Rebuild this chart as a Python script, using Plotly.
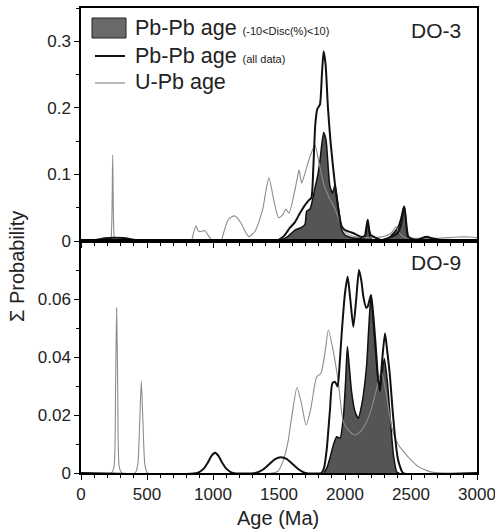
import plotly.graph_objects as go
from plotly.subplots import make_subplots

# ---------------- data ----------------
# DO-3 (top panel)
do3_upb_age = [0, 220, 232, 240, 248, 260, 833, 850, 871, 885, 900, 920, 939, 965, 998, 1061, 1080,
               1110, 1140, 1167, 1212, 1250, 1273, 1320, 1376, 1405, 1424, 1465, 1497, 1530, 1551,
               1576, 1621, 1641, 1652, 1672, 1697, 1735, 1773, 1800, 1840, 1880, 1920, 1950, 1990,
               2050, 2100, 2200, 2300, 2350, 2386, 2420, 2460, 2550, 2700, 2850, 2950, 3000]
do3_upb_val = [0, 0, 0.02, 0.129, 0.02, 0, 0, 0.01, 0.023, 0.016, 0.014, 0.015, 0.0155, 0.008, 0,
               0, 0.012, 0.03, 0.036, 0.0376, 0.027, 0.012, 0.0065, 0.015, 0.047, 0.08, 0.095, 0.057,
               0.035, 0.04, 0.048, 0.042, 0.077, 0.097, 0.107, 0.087, 0.102, 0.127, 0.144, 0.12,
               0.085, 0.065, 0.05, 0.035, 0.015, 0.008, 0.006, 0.005, 0.007, 0.012, 0.021, 0.01,
               0.005, 0.004, 0.004, 0.006, 0.006, 0.005]

do3_all_age = [0, 60, 120, 180, 250, 320, 400, 460, 520, 1450, 1500, 1540, 1583, 1620, 1659, 1690,
               1720, 1745, 1760, 1775, 1790, 1810, 1825, 1838, 1853, 1871, 1890, 1905, 1924, 1947,
               1975, 2000, 2030, 2061, 2100, 2126, 2150, 2160, 2172, 2184, 2195, 2212, 2250, 2278,
               2320, 2353, 2400, 2425, 2440, 2449, 2460, 2480, 2510, 2543, 2580, 2619, 2660, 2720,
               2800, 3000]
do3_all_val = [0, 0.0005, 0.002, 0.004, 0.005, 0.0045, 0.002, 0.0008, 0, 0, 0.002, 0.008, 0.02,
               0.028, 0.042, 0.052, 0.06, 0.065, 0.11, 0.175, 0.198, 0.205, 0.25, 0.285, 0.265, 0.2,
               0.15, 0.12, 0.085, 0.051, 0.022, 0.0165, 0.014, 0.012, 0.008, 0.006, 0.008, 0.018,
               0.032, 0.016, 0.009, 0.007, 0.003, 0.0015, 0.004, 0.0065, 0.012, 0.025, 0.045, 0.052,
               0.035, 0.0065, 0.003, 0.0015, 0.004, 0.0065, 0.004, 0.0015, 0.0005, 0]

do3_disc_age = [1480, 1520, 1566, 1621, 1667, 1697, 1710, 1735, 1773, 1795, 1811, 1838, 1856, 1874,
                1886, 1906, 1924, 1949, 1975, 2000, 2050, 2100, 2140, 2155, 2163, 2172, 2181, 2190,
                2205, 2250, 2300, 2340, 2366, 2400, 2425, 2440, 2449, 2460, 2475, 2500, 2560, 2606,
                2650, 2700]
do3_disc_val = [0, 0.002, 0.0065, 0.0165, 0.02, 0.025, 0.045, 0.048, 0.08, 0.1, 0.122, 0.163, 0.152,
                0.107, 0.082, 0.072, 0.084, 0.052, 0.0165, 0.009, 0.005, 0.004, 0.003, 0.008, 0.018,
                0.032, 0.016, 0.006, 0.002, 0.001, 0.002, 0.006, 0.0115, 0.02, 0.035, 0.048, 0.052,
                0.035, 0.005, 0.002, 0.003, 0.0055, 0.003, 0]

# DO-9 (bottom panel)
do9_upb_age = [0, 230, 250, 262, 270, 278, 290, 310, 410, 430, 445, 457, 469, 484, 505, 1450, 1490,
               1530, 1566, 1604, 1636, 1670, 1705, 1740, 1768, 1786, 1818, 1850, 1874, 1912, 1949,
               1987, 2030, 2076, 2120, 2164, 2200, 2240, 2275, 2310, 2353, 2400, 2455, 2500, 2555,
               2657, 2750, 3000]
do9_upb_val = [0, 0, 0.002, 0.03, 0.057, 0.03, 0.002, 0, 0, 0.003, 0.018, 0.0317, 0.018, 0.003, 0,
               0, 0.0005, 0.004, 0.0102, 0.0217, 0.0295, 0.024, 0.0165, 0.022, 0.0298, 0.0332,
               0.0344, 0.042, 0.0493, 0.0418, 0.0315, 0.0177, 0.0145, 0.0131, 0.0145, 0.0177, 0.022,
               0.0292, 0.035, 0.028, 0.016, 0.01, 0.0068, 0.0045, 0.0022, 0.0003, 0, 0]

do9_all_age = [0, 880, 930, 960, 990, 1015, 1040, 1070, 1100, 1150, 1320, 1380, 1430, 1470, 1515,
               1560, 1600, 1650, 1700, 1820, 1840, 1861, 1886, 1904, 1924, 1944, 1960, 1975, 2000,
               2020, 2040, 2063, 2085, 2106, 2125, 2139, 2160, 2172, 2197, 2215, 2235, 2252, 2265,
               2280, 2303, 2320, 2341, 2360, 2379, 2400, 2417, 2440, 3000]
do9_all_val = [0, 0, 0.0015, 0.0035, 0.006, 0.007, 0.006, 0.0035, 0.0015, 0, 0, 0.0012, 0.0032,
               0.0048, 0.0054, 0.0048, 0.0032, 0.0012, 0, 0, 0.0015, 0.0079, 0.0217, 0.0309, 0.0315,
               0.0298, 0.038, 0.0482, 0.062, 0.0677, 0.06, 0.0504, 0.06, 0.07, 0.066, 0.0608, 0.057,
               0.0574, 0.0614, 0.054, 0.0424, 0.032, 0.0298, 0.038, 0.0482, 0.042, 0.0332, 0.022,
               0.0125, 0.005, 0.0022, 0, 0]

do9_disc_age = [1840, 1861, 1885, 1912, 1937, 1962, 1987, 2005, 2018, 2030, 2050, 2076, 2101, 2120,
                2139, 2164, 2180, 2197, 2220, 2252, 2265, 2280, 2298, 2321, 2341, 2367, 2392, 2410]
do9_disc_val = [0, 0.0016, 0.005, 0.0097, 0.0125, 0.012, 0.0189, 0.032, 0.0436, 0.038, 0.028,
                0.0211, 0.0189, 0.022, 0.0269, 0.0372, 0.05, 0.0614, 0.0487, 0.0315, 0.028, 0.034,
                0.0395, 0.0315, 0.02, 0.0062, 0.0004, 0]

x_tickvals = [0, 500, 1000, 1500, 2000, 2500, 3000]
x_ticktext = ["0", "500", "1000", "1500", "2000", "2500", "3000"]
top_tickvals = [0, 0.1, 0.2, 0.3]
top_ticktext = ["0", "0.1", "0.2", "0.3"]
bot_tickvals = [0, 0.02, 0.04, 0.06]
bot_ticktext = ["0", "0.02", "0.04", "0.06"]

legend_labels = ["Pb-Pb age", "Pb-Pb age", "U-Pb age"]
legend_small = ["(-10&lt;Disc(%)&lt;10)", "(all data)", ""]
panel_labels = ["DO-3", "DO-9"]

# ---------------- figure ----------------
W, H = 495, 530
L, R, T, B = 81, 477, 8, 473
FONT = "Liberation Sans, Arial, sans-serif"
FILL = "#555555"
GRAY = "#8c8c8c"

def px(x):
    return (x - L) / (R - L)

def py(y):
    return (B - y) / (B - T)

fig = make_subplots(rows=2, cols=1, shared_xaxes=True, vertical_spacing=0)

def add_panel(row, disc_a, disc_v, upb_a, upb_v, all_a, all_v):
    fig.add_trace(go.Scatter(x=disc_a, y=disc_v, mode="lines", fill="tozeroy",
                             fillcolor=FILL, line=dict(color="#111111", width=1.5,
                                                       shape="spline", smoothing=0.6),
                             showlegend=False, name="Pb-Pb filtered"), row=row, col=1)
    fig.add_trace(go.Scatter(x=upb_a, y=upb_v, mode="lines",
                             line=dict(color=GRAY, width=1.1, shape="spline", smoothing=0.6),
                             showlegend=False, name="U-Pb"), row=row, col=1)
    fig.add_trace(go.Scatter(x=all_a, y=all_v, mode="lines",
                             line=dict(color="#111111", width=2, shape="spline", smoothing=0.6),
                             showlegend=False, name="Pb-Pb all"), row=row, col=1)

add_panel(1, do3_disc_age, do3_disc_val, do3_upb_age, do3_upb_val, do3_all_age, do3_all_val)
add_panel(2, do9_disc_age, do9_disc_val, do9_upb_age, do9_upb_val, do9_all_age, do9_all_val)

split = (B - 241) / (B - T)
axis_common = dict(showline=True, linecolor="black", linewidth=1.5, mirror=True,
                   showgrid=False, zeroline=False, ticks="outside", tickcolor="black",
                   tickwidth=1, ticklabeloverflow="allow", automargin=False,
                   tickfont=dict(family=FONT, size=17, color="#222"))

fig.update_layout(
    width=W, height=H, margin=dict(l=L, r=W - R, t=T, b=H - B, autoexpand=False),
    paper_bgcolor="white", plot_bgcolor="white", showlegend=False,
    font=dict(family=FONT, color="#222"),
    xaxis=dict(range=[0, 3000], tickvals=x_tickvals, ticktext=x_ticktext,
               showticklabels=False, ticklen=5,
               minor=dict(dtick=100, ticklen=3, ticks="outside", tickcolor="black"),
               **axis_common),
    xaxis2=dict(range=[0, 3000], tickvals=x_tickvals, ticktext=x_ticktext, ticklen=5,
                minor=dict(dtick=100, ticklen=3, ticks="outside", tickcolor="black"),
                **axis_common),
    yaxis=dict(domain=[split, 1], range=[0, 0.35], tickvals=top_tickvals,
               ticktext=top_ticktext, ticklen=5,
               minor=dict(dtick=0.05, ticklen=3, ticks="outside", tickcolor="black"),
               **axis_common),
    yaxis2=dict(domain=[0, split], range=[0, 0.08], tickvals=bot_tickvals,
                ticktext=bot_ticktext, ticklen=5,
                minor=dict(dtick=0.01, ticklen=3, ticks="outside", tickcolor="black"),
                **axis_common),
)

# manual legend
fig.add_shape(type="rect", xref="paper", yref="paper", x0=px(92), x1=px(126), y0=py(38),
              y1=py(18), fillcolor="#6a6a6a", line=dict(color="#222", width=1))
fig.add_shape(type="line", xref="paper", yref="paper", x0=px(95), x1=px(125), y0=py(56),
              y1=py(56), line=dict(color="#111", width=2))
fig.add_shape(type="line", xref="paper", yref="paper", x0=px(95), x1=px(125), y0=py(83),
              y1=py(83), line=dict(color=GRAY, width=1.2))
for label, small, yy in zip(legend_labels, legend_small, [28, 56, 82]):
    txt = label + (" <span style='font-size:11px'>" + small + "</span>" if small else "")
    fig.add_annotation(xref="paper", yref="paper", x=px(133), y=py(yy), xanchor="left",
                       yanchor="middle", text=txt, showarrow=False,
                       font=dict(family=FONT, size=21.5, color="#222"))

for label, (cx, cy) in zip(panel_labels, [(436, 30), (436, 262)]):
    fig.add_annotation(xref="paper", yref="paper", x=px(cx), y=py(cy), xanchor="center",
                       yanchor="middle", text=label, showarrow=False,
                       font=dict(family=FONT, size=21, color="#222"))

fig.add_annotation(xref="paper", yref="paper", x=px(17), y=py(267), text="Σ Probability",
                   textangle=-90, showarrow=False, xanchor="center", yanchor="middle",
                   font=dict(family=FONT, size=20, color="#222"))
fig.add_annotation(xref="paper", yref="paper", x=px(278), y=py(518), text="Age (Ma)",
                   showarrow=False, xanchor="center", yanchor="middle",
                   font=dict(family=FONT, size=20, color="#222"))

fig.write_html(
    "out.html", config={"displayModeBar": False},
    post_script=("document.documentElement.style.overflow='hidden';"
                 "document.body.style.margin='0px';document.body.style.overflow='hidden';"),
)
